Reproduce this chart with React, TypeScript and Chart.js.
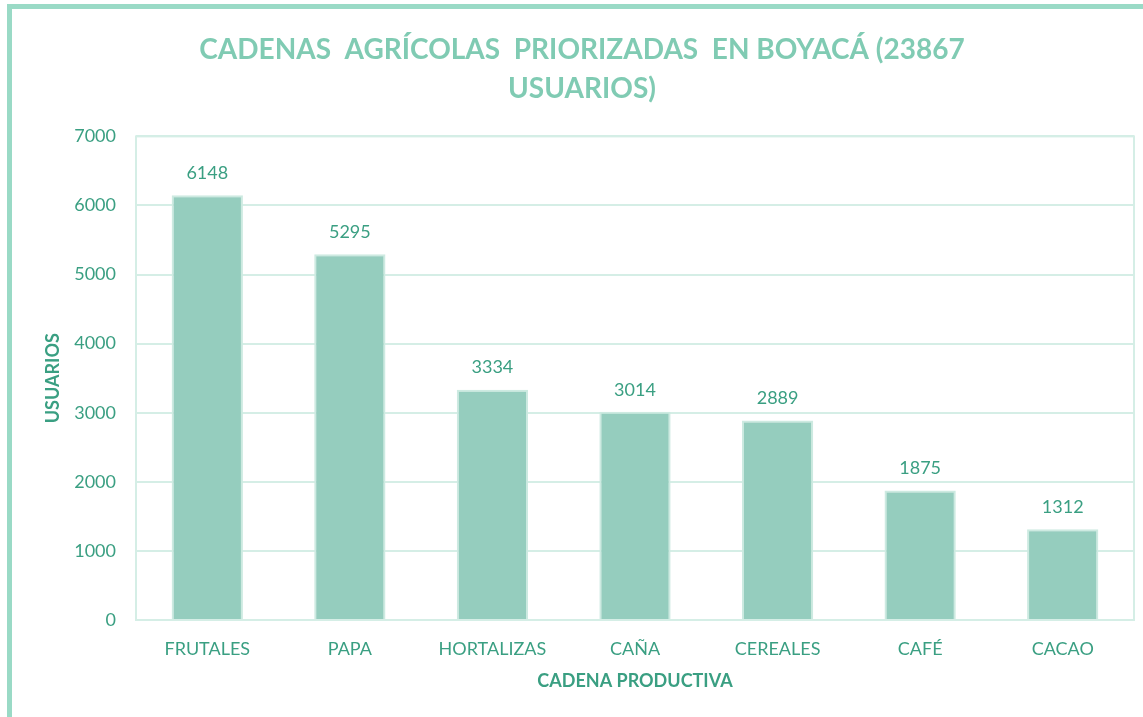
import React, { useEffect, useRef } from "react";
import { Chart, registerables } from "chart.js";

Chart.register(...registerables);

const categories = ["FRUTALES", "PAPA", "HORTALIZAS", "CAÑA", "CEREALES", "CAFÉ", "CACAO"];
const usuarios = [6148, 5295, 3334, 3014, 2889, 1875, 1312];
const titleLines = ["CADENAS  AGRÍCOLAS  PRIORIZADAS  EN BOYACÁ (23867", "USUARIOS)"];
const yTitle = "USUARIOS";
const xTitle = "CADENA PRODUCTIVA";

const TEXT = "#3A9F82";
const TITLE = "#80CBB3";
const BAR = "#95CDBE";
const BAR_BORDER = "#CDEAE1";
const GRID = "#D5EEE6";
const FONT = "Lato, 'Open Sans', sans-serif";

const labelsPlugin = {
  id: "valueLabels",
  afterDatasetsDraw(chart: any) {
    const { ctx } = chart;
    const meta = chart.getDatasetMeta(0);
    ctx.save();
    ctx.font = `18px ${FONT}`;
    ctx.fillStyle = TEXT;
    ctx.textAlign = "center";
    ctx.textBaseline = "middle";
    meta.data.forEach((el: any, i: number) => {
      ctx.fillText(String(chart.data.datasets[0].data[i]), el.x, el.y - 22);
    });
    ctx.restore();
  },
};

const borderPlugin = {
  id: "areaBorder",
  afterDraw(chart: any) {
    const { ctx, chartArea } = chart;
    ctx.save();
    ctx.strokeStyle = GRID;
    ctx.lineWidth = 2;
    ctx.strokeRect(chartArea.left, chartArea.top, chartArea.right - chartArea.left, chartArea.bottom - chartArea.top);
    ctx.restore();
  },
};

export default function App() {
  const ref = useRef<HTMLCanvasElement>(null);
  useEffect(() => {
    if (!ref.current) return;
    const chart = new Chart(ref.current, {
      type: "bar",
      data: {
        labels: categories,
        datasets: [
          {
            data: usuarios,
            backgroundColor: BAR,
            borderColor: BAR_BORDER,
            borderWidth: 2,
            barPercentage: 0.5,
            categoryPercentage: 1,
          },
        ],
      },
      options: {
        animation: false,
        responsive: false,
        layout: { padding: { left: 30, right: 9, top: 10, bottom: 17 } },
        plugins: {
          legend: { display: false },
          tooltip: { enabled: false },
          title: {
            display: true,
            text: titleLines,
            color: TITLE,
            font: { family: FONT, size: 28, weight: "bold", lineHeight: 1.4 },
            padding: { top: 20, bottom: 28 },
          },
        },
        scales: {
          x: {
            grid: { display: false, drawTicks: false },
            border: { display: false },
            ticks: { color: TEXT, font: { family: FONT, size: 18 }, padding: 18 },
            title: {
              display: true,
              text: xTitle,
              color: TEXT,
              font: { family: FONT, size: 18, weight: "bold" },
              padding: { top: 0, bottom: 8 },
            },
            afterFit(scale: any) {
              scale.height = 80;
            },
          },
          y: {
            min: 0,
            max: 7000,
            ticks: {
              stepSize: 1000,
              color: TEXT,
              font: { family: FONT, size: 18 },
              padding: 20,
              callback: (v: any) => String(v),
            },
            grid: { color: GRID, lineWidth: 2, drawTicks: false },
            border: { display: false },
            title: {
              display: true,
              text: yTitle,
              color: TEXT,
              font: { family: FONT, size: 18, weight: "bold" },
              padding: { top: 12, bottom: 0 },
            },
            afterFit(scale: any) {
              scale.width = 106;
            },
          },
        },
      },
      plugins: [labelsPlugin, borderPlugin],
    } as any);
    return () => chart.destroy();
  }, []);

  return (
    <div style={{ position: "fixed", left: 0, top: 0, width: 1143, height: 717, background: "#fff", overflow: "hidden" }}>
      <canvas ref={ref} width={1143} height={717} style={{ position: "absolute", left: 0, top: 0 }} />
      <div
        style={{
          position: "absolute",
          left: 7,
          top: 4,
          right: 0,
          bottom: 0,
          borderLeft: "5px solid #9ADAC6",
          borderTop: "5px solid #9ADAC6",
          pointerEvents: "none",
        }}
      />
    </div>
  );
}
